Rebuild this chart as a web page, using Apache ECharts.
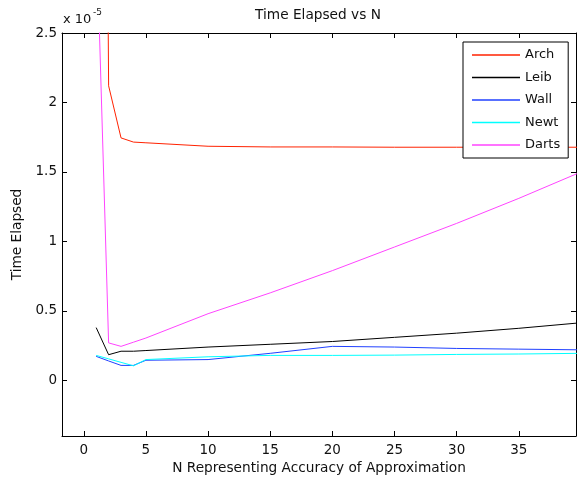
<!DOCTYPE html>
<html><head><meta charset="utf-8">
<script src="https://cdn.jsdelivr.net/npm/echarts@6/dist/echarts.min.js"></script>
<style>html,body{margin:0;padding:0;background:#fff}#c{width:578px;height:481px}</style>
</head><body><div id="c"></div>
<script>
// values in units of 1e-5 seconds
const N = [1, 2, 3, 4, 5, 10, 15, 20, 25, 30, 35, 40];
const arch  = [15, 2.12, 1.745, 1.715, 1.71, 1.685, 1.68, 1.68, 1.678, 1.678, 1.678, 1.678];
const leib  = [0.38, 0.185, 0.21, 0.21, 0.215, 0.24, 0.26, 0.28, 0.31, 0.34, 0.375, 0.415];
const wall  = [0.173, 0.14, 0.108, 0.108, 0.145, 0.15, 0.195, 0.245, 0.24, 0.23, 0.225, 0.22];
const newt  = [0.18, 0.155, 0.13, 0.105, 0.15, 0.17, 0.18, 0.18, 0.182, 0.187, 0.19, 0.195];
const darts = [3.3, 0.27, 0.245, 0.275, 0.305, 0.48, 0.63, 0.79, 0.96, 1.13, 1.31, 1.50];
const seriesNames = ['Arch', 'Leib', 'Wall', 'Newt', 'Darts'];
const xTicks = [0, 5, 10, 15, 20, 25, 30, 35];
const yTicks = [0, 0.5, 1, 1.5, 2, 2.5];

const colors = ['#ff2200', '#000000', '#2040ff', '#00ffff', '#ff44ff'];
const allVals = [arch, leib, wall, newt, darts];
const FONT = 'DejaVu Sans';

const chart = echarts.init(document.getElementById('c'), null, {renderer: 'canvas'});

function xAx(pos) {
  return {
    type: 'value', position: pos, min: -1.75, max: 39.6,
    axisLine: {show: true, onZero: false, lineStyle: {color: '#000', width: 1}},
    axisTick: {show: true, inside: true, length: 5, customValues: xTicks, lineStyle: {color: '#000'}},
    axisLabel: {show: pos === 'bottom', customValues: xTicks, color: '#111', fontFamily: FONT, fontSize: 13.5, margin: 7},
    splitLine: {show: false},
    name: pos === 'bottom' ? 'N Representing Accuracy of Approximation' : '',
    nameLocation: 'middle', nameGap: 24,
    nameTextStyle: {color: '#111', fontFamily: FONT, fontSize: 13.7}
  };
}
function yAx(pos) {
  return {
    type: 'value', position: pos, min: -0.4, max: 2.5,
    axisLine: {show: true, onZero: false, lineStyle: {color: '#000', width: 1}},
    axisTick: {show: true, inside: true, length: 5, customValues: yTicks, lineStyle: {color: '#000'}},
    axisLabel: {show: pos === 'left', customValues: yTicks, color: '#111', fontFamily: FONT, fontSize: 13.5, margin: 5},
    splitLine: {show: false},
    name: pos === 'left' ? 'Time Elapsed' : '',
    nameLocation: 'middle', nameGap: 34,
    nameTextStyle: {color: '#111', fontFamily: FONT, fontSize: 13.7}
  };
}

const option = {
  animation: false,
  backgroundColor: '#fff',
  grid: {left: 62, right: 2, top: 33, bottom: 45, containLabel: false},
  xAxis: [xAx('bottom'), xAx('top')],
  yAxis: [yAx('left'), yAx('right')],
  legend: {
    orient: 'vertical', left: 463, top: 42,
    data: seriesNames.map((n, i) => ({name: n, icon: 'rect', itemStyle: {color: colors[i]}})),
    itemWidth: 48, itemHeight: 1.5, itemGap: 8.5,
    padding: [6, 8, 6, 9],
    borderColor: '#000', borderWidth: 1, backgroundColor: '#fff',
    textStyle: {color: '#111', fontFamily: FONT, fontSize: 13, lineHeight: 14},
    selectedMode: false
  },
  graphic: [
    {type: 'text', x: 318, y: 15, style: {text: 'Time Elapsed vs N', textAlign: 'center', textVerticalAlign: 'middle', fontFamily: FONT, fontSize: 13.7, fill: '#111'}},
    {type: 'text', x: 63, y: 20, style: {text: 'x 10', textAlign: 'left', textVerticalAlign: 'middle', fontFamily: FONT, fontSize: 13, fill: '#111'}},
    {type: 'text', x: 93, y: 13, style: {text: '-5', textAlign: 'left', textVerticalAlign: 'middle', fontFamily: FONT, fontSize: 9, fill: '#111'}}
  ],
  series: seriesNames.map((n, i) => ({
    name: n, type: 'line', xAxisIndex: 0, yAxisIndex: 0,
    data: N.map((x, k) => [x, allVals[i][k]]),
    showSymbol: false, symbol: 'none', clip: true,
    lineStyle: {color: colors[i], width: 1},
    itemStyle: {color: colors[i]},
    emphasis: {disabled: true}
  }))
};
chart.setOption(option);
</script></body></html>
